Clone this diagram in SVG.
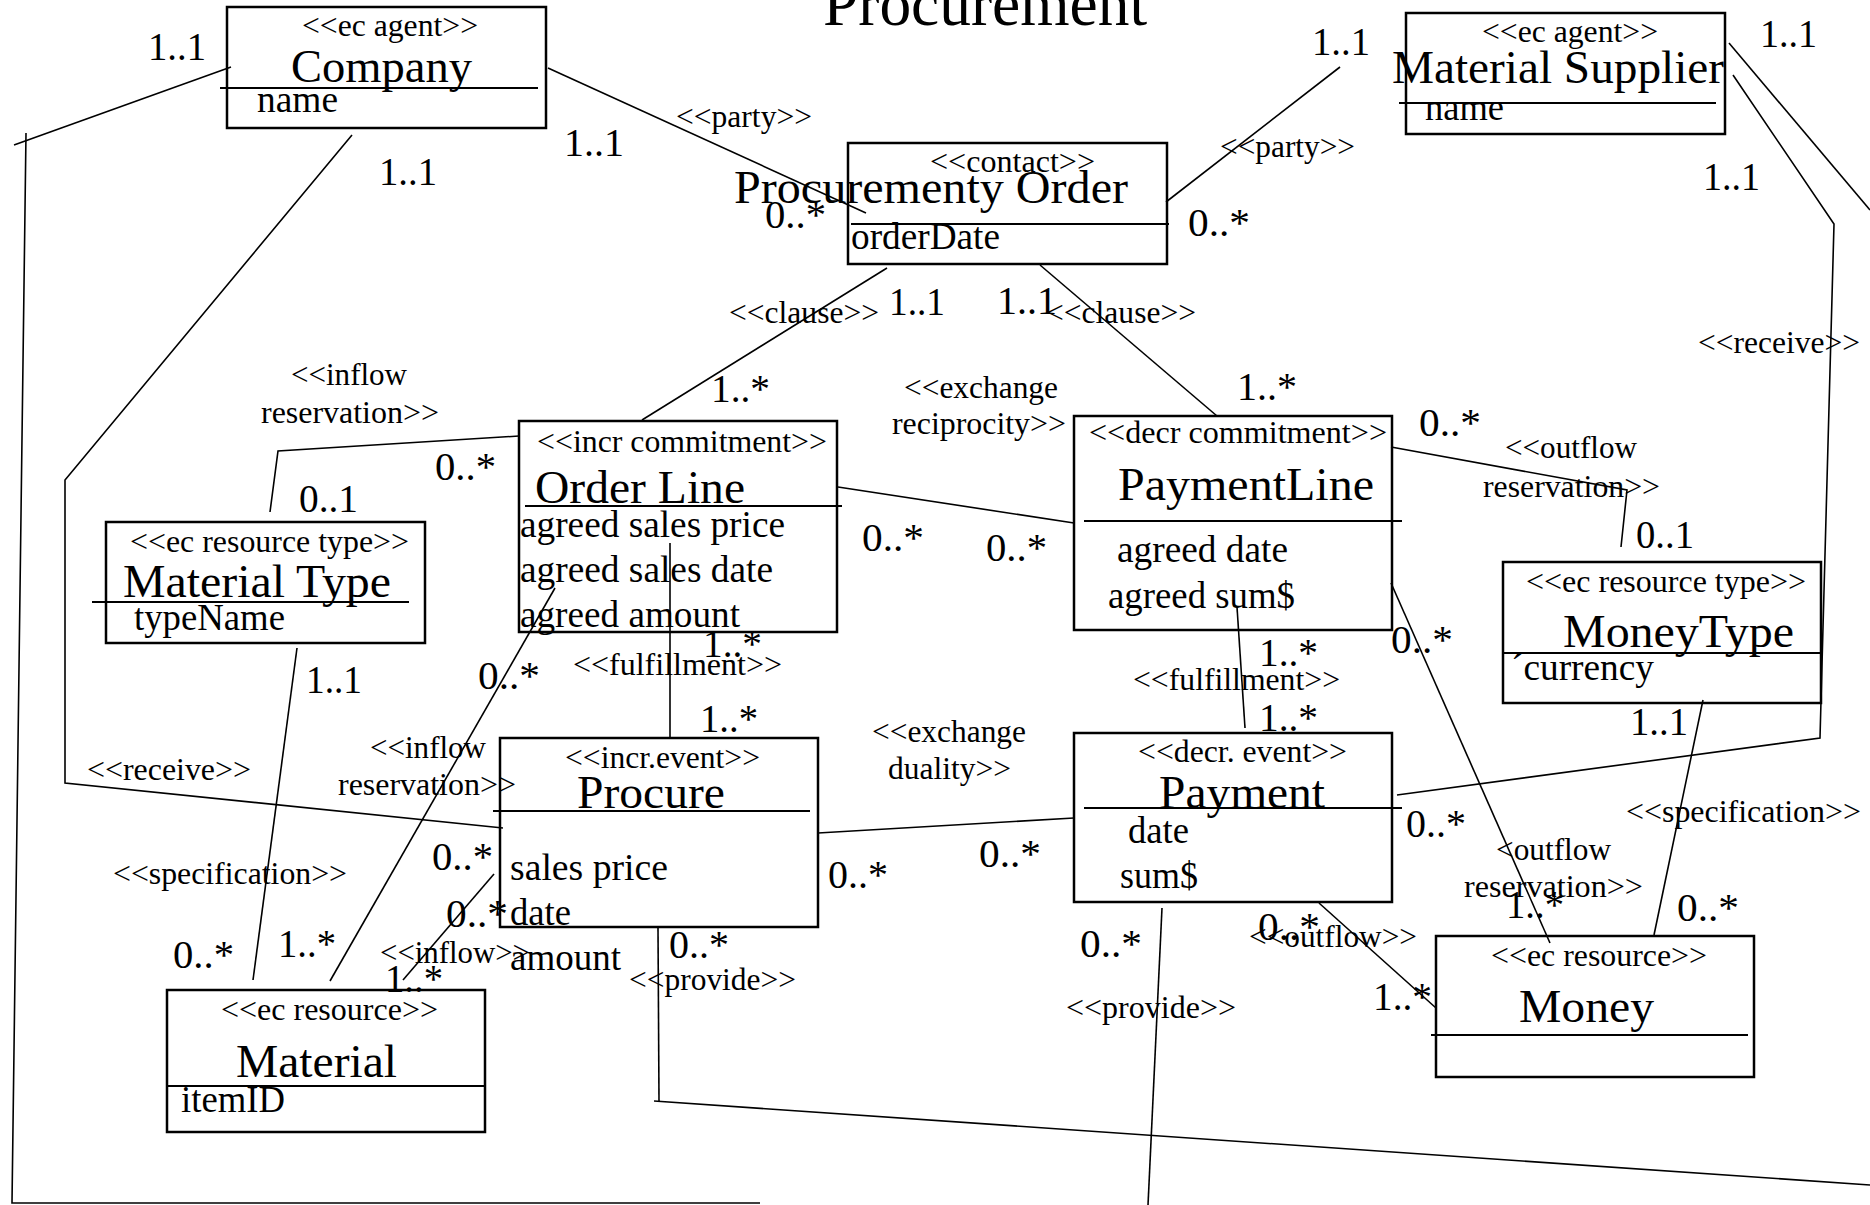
<svg xmlns="http://www.w3.org/2000/svg" width="1870" height="1205" viewBox="0 0 1870 1205">
<style>
text{font-family:"Liberation Serif","Times New Roman",serif;fill:#000}
.box{fill:none;stroke:#000;stroke-width:2.5}
.sep{stroke:#000;stroke-width:2}
.conn{fill:none;stroke:#000;stroke-width:1.6}
.ti{font-size:63px}
.nm{font-size:47px}
.at{font-size:37px}
.st{font-size:31px}
.lb{font-size:31px}
.m{font-size:39px}
</style>
<rect x="0" y="0" width="1870" height="1205" fill="#fff"/>
<text class="ti" x="823" y="25" textLength="324" lengthAdjust="spacingAndGlyphs">Procurement</text>

<g id="connectors">
<polyline class="conn" points="231,67 14,145"/>
<polyline class="conn" points="26,133 12,1203 760,1203"/>
<polyline class="conn" points="352,135 65,480 65,783 503,828"/>
<polyline class="conn" points="548,68 866,213"/>
<polyline class="conn" points="1166,202 1340,67"/>
<polyline class="conn" points="887,268 642,420"/>
<polyline class="conn" points="1040,265 1217,416"/>
<polyline class="conn" points="838,487 1074,523"/>
<polyline class="conn" points="519,436 278,451 270,512"/>
<polyline class="conn" points="297,648 253,980"/>
<polyline class="conn" points="555,588 330,981"/>
<polyline class="conn" points="670,543 670,737"/>
<polyline class="conn" points="494,874 403,980"/>
<polyline class="conn" points="818,833 1074,818"/>
<polyline class="conn" points="658,928 659,1101"/>
<polyline class="conn" points="654,1101 1870,1185"/>
<polyline class="conn" points="1237,607 1245,728"/>
<polyline class="conn" points="1162,908 1148,1205"/>
<polyline class="conn" points="1319,903 1436,1008"/>
<polyline class="conn" points="1391,447 1627,490 1621,547"/>
<polyline class="conn" points="1391,583 1550,943"/>
<polyline class="conn" points="1703,700 1654,935"/>
<polyline class="conn" points="1733,75 1834,224 1820,738 1397,795"/>
<polyline class="conn" points="1729,43 1870,210"/>

<text class="lb" x="676" y="127" textLength="136" lengthAdjust="spacingAndGlyphs">&lt;&lt;party&gt;&gt;</text>
<text class="lb" x="1220" y="157" textLength="135" lengthAdjust="spacingAndGlyphs">&lt;&lt;party&gt;&gt;</text>
<text class="lb" x="729" y="323" textLength="150" lengthAdjust="spacingAndGlyphs">&lt;&lt;clause&gt;&gt;</text>
<text class="lb" x="1046" y="323" textLength="150" lengthAdjust="spacingAndGlyphs">&lt;&lt;clause&gt;&gt;</text>
<text class="lb" x="291" y="385" textLength="116" lengthAdjust="spacingAndGlyphs">&lt;&lt;inflow</text>
<text class="lb" x="261" y="423" textLength="178" lengthAdjust="spacingAndGlyphs">reservation&gt;&gt;</text>
<text class="lb" x="904" y="398" textLength="154" lengthAdjust="spacingAndGlyphs">&lt;&lt;exchange</text>
<text class="lb" x="892" y="434" textLength="174" lengthAdjust="spacingAndGlyphs">reciprocity&gt;&gt;</text>
<text class="lb" x="1505" y="458" textLength="132" lengthAdjust="spacingAndGlyphs">&lt;&lt;outflow</text>
<text class="lb" x="1483" y="497" textLength="177" lengthAdjust="spacingAndGlyphs">reservation&gt;&gt;</text>
<text class="lb" x="1698" y="353" textLength="162" lengthAdjust="spacingAndGlyphs">&lt;&lt;receive&gt;&gt;</text>
<text class="lb" x="573" y="675" textLength="209" lengthAdjust="spacingAndGlyphs">&lt;&lt;fulfillment&gt;&gt;</text>
<text class="lb" x="1133" y="690" textLength="207" lengthAdjust="spacingAndGlyphs">&lt;&lt;fulfillment&gt;&gt;</text>
<text class="lb" x="872" y="742" textLength="154" lengthAdjust="spacingAndGlyphs">&lt;&lt;exchange</text>
<text class="lb" x="888" y="779" textLength="123" lengthAdjust="spacingAndGlyphs">duality&gt;&gt;</text>
<text class="lb" x="370" y="758" textLength="116" lengthAdjust="spacingAndGlyphs">&lt;&lt;inflow</text>
<text class="lb" x="338" y="795" textLength="178" lengthAdjust="spacingAndGlyphs">reservation&gt;&gt;</text>
<text class="lb" x="87" y="780" textLength="164" lengthAdjust="spacingAndGlyphs">&lt;&lt;receive&gt;&gt;</text>
<text class="lb" x="113" y="884" textLength="234" lengthAdjust="spacingAndGlyphs">&lt;&lt;specification&gt;&gt;</text>
<text class="lb" x="1626" y="822" textLength="235" lengthAdjust="spacingAndGlyphs">&lt;&lt;specification&gt;&gt;</text>
<text class="lb" x="1496" y="860" textLength="115" lengthAdjust="spacingAndGlyphs">&lt;outflow</text>
<text class="lb" x="1464" y="897" textLength="179" lengthAdjust="spacingAndGlyphs">reservation&gt;&gt;</text>
<text class="lb" x="380" y="963" textLength="150" lengthAdjust="spacingAndGlyphs">&lt;&lt;inflow&gt;&gt;</text>
<text class="lb" x="629" y="990" textLength="167" lengthAdjust="spacingAndGlyphs">&lt;&lt;provide&gt;&gt;</text>
<text class="lb" x="1066" y="1018" textLength="170" lengthAdjust="spacingAndGlyphs">&lt;&lt;provide&gt;&gt;</text>
<text class="lb" x="1249" y="947" textLength="168" lengthAdjust="spacingAndGlyphs">&lt;&lt;outflow&gt;&gt;</text>

<text class="m" x="148" y="60" textLength="58" lengthAdjust="spacingAndGlyphs">1..1</text>
<text class="m" x="379" y="185" textLength="58" lengthAdjust="spacingAndGlyphs">1..1</text>
<text class="m" x="564" y="156" textLength="60" lengthAdjust="spacingAndGlyphs">1..1</text>
<text class="m" x="765" y="228" textLength="61" lengthAdjust="spacingAndGlyphs">0..*</text>
<text class="m" x="1188" y="236" textLength="62" lengthAdjust="spacingAndGlyphs">0..*</text>
<text class="m" x="1312" y="55" textLength="58" lengthAdjust="spacingAndGlyphs">1..1</text>
<text class="m" x="1760" y="47" textLength="57" lengthAdjust="spacingAndGlyphs">1..1</text>
<text class="m" x="1703" y="190" textLength="57" lengthAdjust="spacingAndGlyphs">1..1</text>
<text class="m" x="889" y="315" textLength="56" lengthAdjust="spacingAndGlyphs">1..1</text>
<text class="m" x="997" y="314" textLength="60" lengthAdjust="spacingAndGlyphs">1..1</text>
<text class="m" x="711" y="402" textLength="59" lengthAdjust="spacingAndGlyphs">1..*</text>
<text class="m" x="1237" y="400" textLength="60" lengthAdjust="spacingAndGlyphs">1..*</text>
<text class="m" x="435" y="480" textLength="61" lengthAdjust="spacingAndGlyphs">0..*</text>
<text class="m" x="299" y="512" textLength="59" lengthAdjust="spacingAndGlyphs">0..1</text>
<text class="m" x="862" y="551" textLength="62" lengthAdjust="spacingAndGlyphs">0..*</text>
<text class="m" x="986" y="561" textLength="61" lengthAdjust="spacingAndGlyphs">0..*</text>
<text class="m" x="1419" y="436" textLength="62" lengthAdjust="spacingAndGlyphs">0..*</text>
<text class="m" x="1636" y="548" textLength="58" lengthAdjust="spacingAndGlyphs">0..1</text>
<text class="m" x="306" y="693" textLength="56" lengthAdjust="spacingAndGlyphs">1..1</text>
<text class="m" x="478" y="689" textLength="62" lengthAdjust="spacingAndGlyphs">0..*</text>
<text class="m" x="703" y="657" textLength="59" lengthAdjust="spacingAndGlyphs">1..*</text>
<text class="m" x="700" y="732" textLength="58" lengthAdjust="spacingAndGlyphs">1..*</text>
<text class="m" x="1259" y="666" textLength="59" lengthAdjust="spacingAndGlyphs">1..*</text>
<text class="m" x="1259" y="731" textLength="59" lengthAdjust="spacingAndGlyphs">1..*</text>
<text class="m" x="1391" y="653" textLength="62" lengthAdjust="spacingAndGlyphs">0..*</text>
<text class="m" x="1630" y="735" textLength="58" lengthAdjust="spacingAndGlyphs">1..1</text>
<text class="m" x="1406" y="837" textLength="60" lengthAdjust="spacingAndGlyphs">0..*</text>
<text class="m" x="828" y="888" textLength="60" lengthAdjust="spacingAndGlyphs">0..*</text>
<text class="m" x="979" y="867" textLength="62" lengthAdjust="spacingAndGlyphs">0..*</text>
<text class="m" x="432" y="870" textLength="61" lengthAdjust="spacingAndGlyphs">0..*</text>
<text class="m" x="446" y="927" textLength="62" lengthAdjust="spacingAndGlyphs">0..*</text>
<text class="m" x="669" y="958" textLength="60" lengthAdjust="spacingAndGlyphs">0..*</text>
<text class="m" x="1080" y="957" textLength="62" lengthAdjust="spacingAndGlyphs">0..*</text>
<text class="m" x="1506" y="918" textLength="58" lengthAdjust="spacingAndGlyphs">1..*</text>
<text class="m" x="1677" y="921" textLength="62" lengthAdjust="spacingAndGlyphs">0..*</text>
<text class="m" x="1258" y="940" textLength="62" lengthAdjust="spacingAndGlyphs">0..*</text>
<text class="m" x="1373" y="1010" textLength="59" lengthAdjust="spacingAndGlyphs">1..*</text>
<text class="m" x="173" y="968" textLength="61" lengthAdjust="spacingAndGlyphs">0..*</text>
<text class="m" x="278" y="957" textLength="58" lengthAdjust="spacingAndGlyphs">1..*</text>
<text class="m" x="385" y="992" textLength="58" lengthAdjust="spacingAndGlyphs">1..*</text>
</g>

<g id="company">
<rect class="box" x="227" y="7" width="319" height="121"/>
<line class="sep" x1="220" y1="88" x2="538" y2="88"/>
<text class="st" x="302" y="36" textLength="176" lengthAdjust="spacingAndGlyphs">&lt;&lt;ec agent&gt;&gt;</text>
<text class="nm" x="291" y="82" textLength="181" lengthAdjust="spacingAndGlyphs">Company</text>
<text class="at" x="257" y="112" textLength="81" lengthAdjust="spacingAndGlyphs">name</text>
</g>

<g id="material-supplier">
<rect class="box" x="1406" y="13" width="319" height="121"/>
<line class="sep" x1="1399" y1="103" x2="1716" y2="103"/>
<text class="st" x="1482" y="42" textLength="176" lengthAdjust="spacingAndGlyphs">&lt;&lt;ec agent&gt;&gt;</text>
<text class="nm" x="1392" y="83" textLength="332" lengthAdjust="spacingAndGlyphs">Material Supplier</text>
<text class="at" x="1425" y="120" textLength="79" lengthAdjust="spacingAndGlyphs">name</text>
</g>

<g id="procurement-order">
<rect class="box" x="848" y="143" width="319" height="121"/>
<line class="sep" x1="851" y1="224" x2="1169" y2="224"/>
<text class="st" x="930" y="172" textLength="165" lengthAdjust="spacingAndGlyphs">&lt;&lt;contact&gt;&gt;</text>
<text class="nm" x="734" y="203" textLength="394" lengthAdjust="spacingAndGlyphs">Procurementy Order</text>
<text class="at" x="851" y="249" textLength="149" lengthAdjust="spacingAndGlyphs">orderDate</text>
</g>

<g id="order-line">
<rect class="box" x="519" y="421" width="318" height="211"/>
<line class="sep" x1="525" y1="506" x2="842" y2="506"/>
<text class="st" x="537" y="452" textLength="290" lengthAdjust="spacingAndGlyphs">&lt;&lt;incr commitment&gt;&gt;</text>
<text class="nm" x="535" y="503" textLength="210" lengthAdjust="spacingAndGlyphs">Order Line</text>
<text class="at" x="520" y="537" textLength="265" lengthAdjust="spacingAndGlyphs">agreed sales price</text>
<text class="at" x="520" y="582" textLength="253" lengthAdjust="spacingAndGlyphs">agreed sales date</text>
<text class="at" x="520" y="627" textLength="220" lengthAdjust="spacingAndGlyphs">agreed amount</text>
</g>

<g id="payment-line">
<rect class="box" x="1074" y="416" width="318" height="214"/>
<line class="sep" x1="1084" y1="521" x2="1402" y2="521"/>
<text class="st" x="1089" y="443" textLength="298" lengthAdjust="spacingAndGlyphs">&lt;&lt;decr commitment&gt;&gt;</text>
<text class="nm" x="1118" y="500" textLength="256" lengthAdjust="spacingAndGlyphs">PaymentLine</text>
<text class="at" x="1117" y="562" textLength="171" lengthAdjust="spacingAndGlyphs">agreed date</text>
<text class="at" x="1108" y="608" textLength="187" lengthAdjust="spacingAndGlyphs">agreed sum$</text>
</g>

<g id="material-type">
<rect class="box" x="106" y="522" width="319" height="121"/>
<line class="sep" x1="92" y1="602" x2="409" y2="602"/>
<text class="st" x="130" y="552" textLength="279" lengthAdjust="spacingAndGlyphs">&lt;&lt;ec resource type&gt;&gt;</text>
<text class="nm" x="123" y="597" textLength="268" lengthAdjust="spacingAndGlyphs">Material Type</text>
<text class="at" x="134" y="630" textLength="151" lengthAdjust="spacingAndGlyphs">typeName</text>
</g>

<g id="money-type">
<rect class="box" x="1503" y="562" width="318" height="141"/>
<line class="sep" x1="1503" y1="653" x2="1821" y2="653"/>
<text class="st" x="1526" y="592" textLength="280" lengthAdjust="spacingAndGlyphs">&lt;&lt;ec resource type&gt;&gt;</text>
<text class="nm" x="1563" y="647" textLength="231" lengthAdjust="spacingAndGlyphs">MoneyType</text>
<text class="at" x="1511" y="680" textLength="143" lengthAdjust="spacingAndGlyphs">´currency</text>
</g>

<g id="procure">
<rect class="box" x="500" y="738" width="318" height="189"/>
<line class="sep" x1="493" y1="811" x2="810" y2="811"/>
<text class="st" x="565" y="768" textLength="195" lengthAdjust="spacingAndGlyphs">&lt;&lt;incr.event&gt;&gt;</text>
<text class="nm" x="577" y="808" textLength="148" lengthAdjust="spacingAndGlyphs">Procure</text>
<text class="at" x="510" y="880" textLength="158" lengthAdjust="spacingAndGlyphs">sales price</text>
<text class="at" x="510" y="925" textLength="61" lengthAdjust="spacingAndGlyphs">date</text>
<text class="at" x="510" y="970" textLength="111" lengthAdjust="spacingAndGlyphs">amount</text>
</g>

<g id="payment">
<rect class="box" x="1074" y="733" width="318" height="169"/>
<line class="sep" x1="1084" y1="808" x2="1402" y2="808"/>
<text class="st" x="1138" y="762" textLength="209" lengthAdjust="spacingAndGlyphs">&lt;&lt;decr. event&gt;&gt;</text>
<text class="nm" x="1159" y="808" textLength="166" lengthAdjust="spacingAndGlyphs">Payment</text>
<text class="at" x="1128" y="843" textLength="61" lengthAdjust="spacingAndGlyphs">date</text>
<text class="at" x="1120" y="888" textLength="78" lengthAdjust="spacingAndGlyphs">sum$</text>
</g>

<g id="material">
<rect class="box" x="167" y="990" width="318" height="142"/>
<line class="sep" x1="167" y1="1086" x2="485" y2="1086"/>
<text class="st" x="221" y="1020" textLength="217" lengthAdjust="spacingAndGlyphs">&lt;&lt;ec resource&gt;&gt;</text>
<text class="nm" x="236" y="1077" textLength="161" lengthAdjust="spacingAndGlyphs">Material</text>
<text class="at" x="181" y="1112" textLength="104" lengthAdjust="spacingAndGlyphs">itemID</text>
</g>

<g id="money">
<rect class="box" x="1436" y="936" width="318" height="141"/>
<line class="sep" x1="1431" y1="1035" x2="1748" y2="1035"/>
<text class="st" x="1491" y="966" textLength="216" lengthAdjust="spacingAndGlyphs">&lt;&lt;ec resource&gt;&gt;</text>
<text class="nm" x="1519" y="1022" textLength="135" lengthAdjust="spacingAndGlyphs">Money</text>
</g>
</svg>
